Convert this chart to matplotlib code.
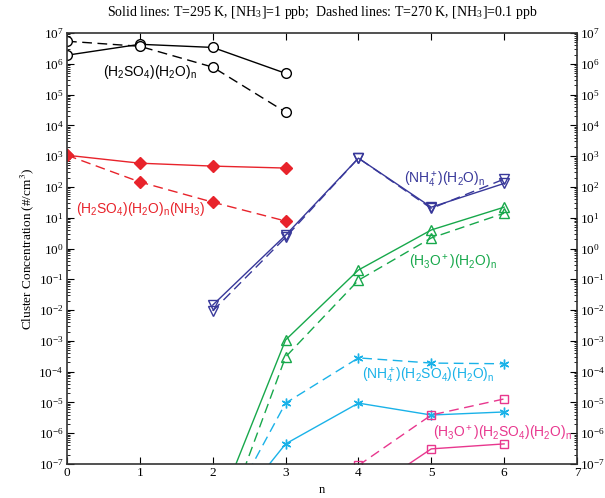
import numpy as np
import matplotlib
matplotlib.use("Agg")
import matplotlib.pyplot as plt
from matplotlib.ticker import LogLocator, NullFormatter, FixedLocator, FormatStrFormatter

plt.rcParams['font.family'] = ['Liberation Serif', 'DejaVu Serif']
plt.rcParams['mathtext.fontset'] = 'stix'

# (H2SO4)(H2O)n
n_sa = [0, 1, 2, 3]
sa_solid = [1.9e6, 4.3e6, 3.4e6, 4.9e5]
sa_dash = [5.4e6, 3.7e6, 7.8e5, 2.7e4]

# (H2SO4)(H2O)n(NH3)
n_am = [0, 1, 2, 3]
am_solid = [1.07e3, 590, 475, 410]
am_dash = [1.07e3, 145, 32, 7.8]

# (NH4+)(H2O)n
n_nh4 = [2, 3, 4, 5, 6]
nh4_solid = [0.0145, 2.7, 860, 22, 130]
nh4_dash = [0.0094, 2.3, 860, 20, 180]

# (H3O+)(H2O)n
n_h3o = [2, 3, 4, 5, 6]
h3o_solid = [1.3e-9, 1.07e-3, 0.2, 4.0, 22]
h3o_dash = [1.2e-10, 3.0e-4, 0.093, 2.2, 14]

# (NH4+)(H2SO4)(H2O)n
n_nsa = [2, 3, 4, 5, 6]
nsa_solid = [5e-10, 4.5e-7, 9.5e-6, 3.9e-6, 4.9e-6]
nsa_dash = [4e-10, 9.5e-6, 2.8e-4, 1.9e-4, 1.8e-4]

# (H3O+)(H2SO4)(H2O)n
n_hsa = [4, 5, 6]
hsa_solid = [8e-9, 3.1e-7, 4.5e-7]
hsa_dash = [9e-8, 3.9e-6, 1.3e-5]

fig = plt.figure(figsize=(6.05, 4.98), dpi=100)
ax = fig.add_axes([67/605, 1-464/498, (577-67)/605, (464-33)/498])

black = 'black'
red = '#e8232b'
blue = '#38389a'
green = '#17a84b'
cyan = '#1ab2e8'
pink = '#e8378e'

ms = 7
dash = (0, (7, 4))
asterisk = (6, 2, 0)

ax.plot(n_sa, sa_solid, '-', color=black, lw=1, marker='o', ms=ms, mfc='white', mec=black)
ax.plot(n_sa, sa_dash, color=black, ls=dash, lw=1, marker='o', ms=ms, mfc='white', mec=black)

ax.plot(n_am, am_solid, '-', color=red, lw=1, marker='D', ms=6, mfc=red, mec=red)
ax.plot(n_am, am_dash, color=red, ls=dash, lw=1, marker='D', ms=6, mfc=red, mec=red)

ax.plot(n_nh4, nh4_solid, '-', color=blue, lw=1, marker='v', ms=ms, mfc='none', mec=blue)
ax.plot(n_nh4, nh4_dash, color=blue, ls=dash, lw=1, marker='v', ms=ms, mfc='none', mec=blue)

ax.plot(n_h3o, h3o_solid, '-', color=green, lw=1, marker='^', ms=ms, mfc='none', mec=green)
ax.plot(n_h3o, h3o_dash, color=green, ls=dash, lw=1, marker='^', ms=ms, mfc='none', mec=green)

ax.plot(n_nsa, nsa_solid, '-', color=cyan, lw=1, marker=asterisk, ms=ms, mec=cyan, mew=1)
ax.plot(n_nsa, nsa_dash, color=cyan, ls=dash, lw=1, marker=asterisk, ms=ms, mec=cyan, mew=1)

ax.plot(n_hsa, hsa_solid, '-', color=pink, lw=1, marker='s', ms=6, mfc='none', mec=pink)
ax.plot(n_hsa, hsa_dash, color=pink, ls=dash, lw=1, marker='s', ms=6, mfc='none', mec=pink)

ax.set_yscale('log')
ax.set_xlim(0, 7)
ax.set_ylim(1e-7, 1e7)
ax.xaxis.set_major_locator(FixedLocator(range(8)))
ax.xaxis.set_major_formatter(FormatStrFormatter('%d'))
ax.yaxis.set_major_locator(LogLocator(base=10, numticks=20))
ax.yaxis.set_minor_locator(LogLocator(base=10, subs=np.arange(2, 10), numticks=20))
ax.yaxis.set_minor_formatter(NullFormatter())
ax.tick_params(which='both', direction='in', top=True, right=True, labelright=True, labelsize=9.5)
ax.tick_params(which='major', length=5, width=0.8, pad=2.5)
ax.tick_params(which='minor', length=2.5, width=0.6)
for s in ax.spines.values():
    s.set_linewidth(1.2)
    s.set_color('#333333')

ax.set_xlabel('n', fontsize=9, labelpad=3)
ax.set_ylabel('Cluster Concentration (#/cm$^3$)', fontsize=9.5, labelpad=2)
ax.set_title(r'Solid lines: T=295 K, [NH$_\mathregular{3}$]=1 ppb;  Dashed lines: T=270 K, [NH$_\mathregular{3}$]=0.1 ppb',
             fontsize=10, pad=12)

lab = dict(family=['Liberation Sans', 'DejaVu Sans'], fontsize=10)
ax.text(0.49, 4.0e5, r'$\mathregular{(H_2SO_4)(H_2O)_n}$', color=black, **lab)
ax.text(0.12, 14, r'$\mathregular{(H_2SO_4)(H_2O)_n(NH_3)}$', color=red, **lab)
ax.text(4.62, 130, r'$\mathregular{(NH_4^+)(H_2O)_n}$', color=blue, **lab)
ax.text(4.70, 0.25, r'$\mathregular{(H_3O^+)(H_2O)_n}$', color=green, **lab)
ax.text(4.05, 5.4e-5, r'$\mathregular{(NH_4^+)(H_2SO_4)(H_2O)_n}$', color=cyan, **lab)
ax.text(5.03, 7e-7, r'$\mathregular{(H_3O^+)(H_2SO_4)(H_2O)_n}$', color=pink, **lab)

fig.savefig('out.png', dpi=100)
